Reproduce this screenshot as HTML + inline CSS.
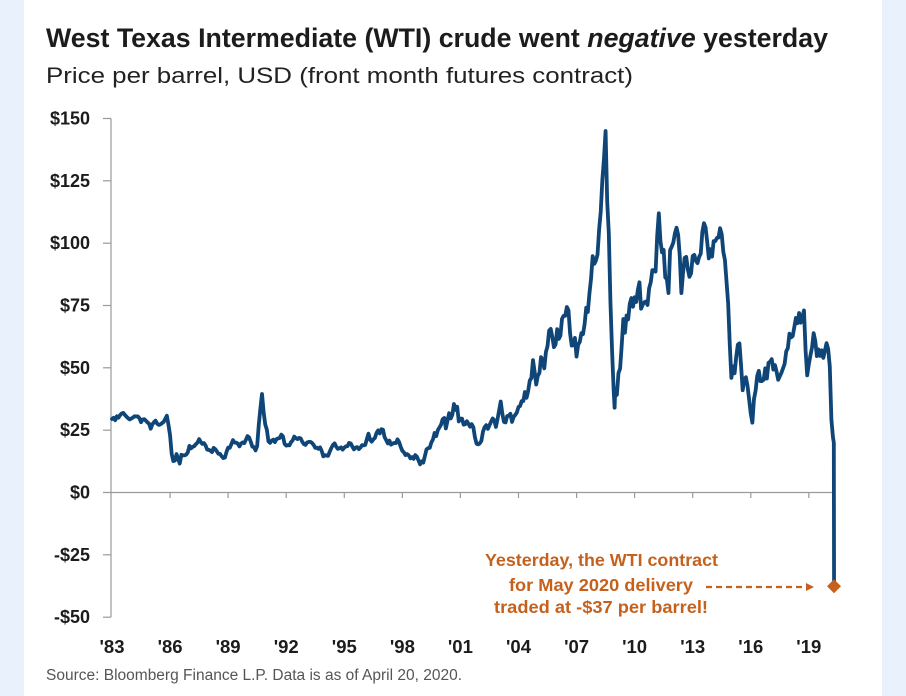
<!DOCTYPE html>
<html>
<head>
<meta charset="utf-8">
<style>
  html,body{margin:0;padding:0;background:#fff;}
  svg{display:block;}
</style>
</head>
<body>
<svg width="906" height="696" viewBox="0 0 906 696" xmlns="http://www.w3.org/2000/svg">
  <rect x="0" y="0" width="906" height="696" fill="#ffffff"/>
  <rect x="0" y="0" width="24" height="696" fill="#e8f1fc"/>
  <rect x="882" y="0" width="24" height="696" fill="#e8f1fc"/>

  <!-- Title -->
  <text x="46" y="47" font-family="Liberation Sans, sans-serif" font-size="26.5" font-weight="bold" fill="#1c1c1c" textLength="782" lengthAdjust="spacingAndGlyphs">West Texas Intermediate (WTI) crude went <tspan font-style="italic">negative</tspan> yesterday</text>
  <text x="46" y="83" font-family="Liberation Sans, sans-serif" font-size="22" fill="#222" textLength="587" lengthAdjust="spacingAndGlyphs">Price per barrel, USD (front month futures contract)</text>

  <!-- Axes -->
  <g stroke="#9a9a9a" stroke-width="1.2" fill="none">
    <line x1="111" y1="118.5" x2="111" y2="617.2"/>
    <line x1="103" y1="118.5" x2="111" y2="118.5"/>
    <line x1="103" y1="180.8" x2="111" y2="180.8"/>
    <line x1="103" y1="243.2" x2="111" y2="243.2"/>
    <line x1="103" y1="305.5" x2="111" y2="305.5"/>
    <line x1="103" y1="367.8" x2="111" y2="367.8"/>
    <line x1="103" y1="430.2" x2="111" y2="430.2"/>
    <line x1="103" y1="492.5" x2="834" y2="492.5"/>
    <line x1="103" y1="554.8" x2="111" y2="554.8"/>
    <line x1="103" y1="617.2" x2="111" y2="617.2"/>
    <line x1="170.1" y1="492.5" x2="170.1" y2="498"/>
    <line x1="228.1" y1="492.5" x2="228.1" y2="498"/>
    <line x1="286.2" y1="492.5" x2="286.2" y2="498"/>
    <line x1="344.3" y1="492.5" x2="344.3" y2="498"/>
    <line x1="402.4" y1="492.5" x2="402.4" y2="498"/>
    <line x1="460.4" y1="492.5" x2="460.4" y2="498"/>
    <line x1="518.5" y1="492.5" x2="518.5" y2="498"/>
    <line x1="576.6" y1="492.5" x2="576.6" y2="498"/>
    <line x1="634.6" y1="492.5" x2="634.6" y2="498"/>
    <line x1="692.7" y1="492.5" x2="692.7" y2="498"/>
    <line x1="750.8" y1="492.5" x2="750.8" y2="498"/>
    <line x1="808.8" y1="492.5" x2="808.8" y2="498"/>
  </g>

  <!-- Y labels -->
  <g font-family="Liberation Sans, sans-serif" font-size="18" font-weight="bold" fill="#1c1c1c" text-anchor="end">
    <text x="90" y="124.5">$150</text>
    <text x="90" y="186.8">$125</text>
    <text x="90" y="249.2">$100</text>
    <text x="90" y="311.5">$75</text>
    <text x="90" y="373.8">$50</text>
    <text x="90" y="436.2">$25</text>
    <text x="90" y="498.5">$0</text>
    <text x="90" y="560.8">-$25</text>
    <text x="90" y="623.2">-$50</text>
  </g>

  <!-- X labels -->
  <g font-family="Liberation Sans, sans-serif" font-size="18.5" font-weight="bold" fill="#1c1c1c" text-anchor="middle">
    <text x="112" y="653">'83</text>
    <text x="170.1" y="653">'86</text>
    <text x="228.1" y="653">'89</text>
    <text x="286.2" y="653">'92</text>
    <text x="344.3" y="653">'95</text>
    <text x="402.4" y="653">'98</text>
    <text x="460.4" y="653">'01</text>
    <text x="518.5" y="653">'04</text>
    <text x="576.6" y="653">'07</text>
    <text x="634.6" y="653">'10</text>
    <text x="692.7" y="653">'13</text>
    <text x="750.8" y="653">'16</text>
    <text x="808.8" y="653">'19</text>
  </g>

  <!-- Source -->
  <text x="46" y="680" font-family="Liberation Sans, sans-serif" font-size="15.5" fill="#555" textLength="416" lengthAdjust="spacingAndGlyphs">Source: Bloomberg Finance L.P. Data is as of April 20, 2020.</text>

  <!-- Data line -->
  <g transform="translate(112,492.5) scale(1.613,-2.4933)">
    <polyline fill="none" stroke="#0f4677" stroke-width="3.8" stroke-linejoin="round" stroke-linecap="round" vector-effect="non-scaling-stroke" points="0,29.5 1,30 2,29 3,30.6 4,30 5,31 6,31.7 7,31.9 8,31.1 9,30.4 10,29.8 11,29.3 12,29.7 13,30.1 14,30.6 15,30.5 16,30.5 17,29.8 18,28.2 19,29.3 20,29.4 21,28.8 22,28.1 23,27.6 24,25.6 25,27.3 26,28.2 27,28.8 28,27.6 29,27.1 30,27.3 31,27.8 32,28.3 33,29.5 34,30.8 35,27.2 36,22.9 37,15.5 38,12.6 39,12.8 40,15.4 41,13.5 42,11.6 43,15.1 44,14.9 45,14.9 46,15.2 47,16.1 48,18.7 49,17.7 50,18.3 51,18.6 52,19.4 53,20 54,21.4 55,20.3 56,19.5 57,19.8 58,18.9 59,17.2 60,17.1 61,16.8 62,16.2 63,17.9 64,17.4 65,16.5 66,15.5 67,15.5 68,14.5 69,13.8 70,14 71,16.3 72,18 73,17.9 74,19.4 75,21 76,20 77,20 78,19.6 79,18.5 80,19.6 81,20.1 82,19.8 83,21.1 84,22.6 85,22.1 86,20.4 87,18.4 88,18.2 89,16.9 90,18.6 91,27.2 92,33.7 93,39.5 94,32.3 95,27.3 96,25.2 97,20.5 98,19.9 99,20.8 100,21.2 101,20.2 102,21.4 103,21.7 104,21.9 105,23.2 106,22.5 107,19.5 108,18.8 109,19 110,18.9 111,20.2 112,20.9 113,22.4 114,21.8 115,21.4 116,21.9 117,21.7 118,20.3 119,19.4 120,19.1 121,20.1 122,20.3 123,20.3 124,19.9 125,19.1 126,17.9 127,18 128,17.5 129,18.1 130,16.7 131,14.5 132,15 133,14.8 134,14.7 135,16.4 136,17.9 137,19.1 138,19.7 139,18.4 140,17.5 141,17.7 142,18.1 143,17.2 144,18 145,18.5 146,18.6 147,19.9 148,19.7 149,18.4 150,17.3 151,18 152,18.2 153,17.4 154,18 155,19 156,18.9 157,19.1 158,21.4 159,23.6 160,21.2 161,20.4 162,21.3 163,21.9 164,23.9 165,24.9 166,23.7 167,25.4 168,25.2 169,22.2 170,21 171,19.7 172,20.8 173,19.2 174,19.6 175,19.9 176,19.8 177,21.3 178,20.2 179,18.3 180,16.7 181,16.1 182,15 183,15.4 184,14.9 185,13.7 186,14.2 187,13.5 188,15 189,14.4 190,12.9 191,11.3 192,12.5 193,12 194,14.7 195,17.3 196,17.8 197,17.9 198,20.1 199,21.3 200,23.9 201,22.6 202,25 203,26.1 204,27.2 205,29.4 206,29.9 207,25.7 208,28.8 209,31.8 210,29.7 211,31.2 212,35.5 213,33.1 214,34.4 215,28.5 216,29.6 217,29.6 218,27.2 219,27.4 220,28.6 221,27.6 222,26.4 223,27.4 224,26.2 225,22.2 226,19.6 227,19.3 228,19.7 229,20.7 230,24.4 231,26.2 232,27 233,25.5 234,26.9 235,28.4 236,29.7 237,28.9 238,26.3 239,29.4 240,32.9 241,36.5 242,31.6 243,28.3 244,28.1 245,30.7 246,30.8 247,31.6 248,28.3 249,30.3 250,31.1 251,32.1 252,34.3 253,34.7 254,36.7 255,36.7 256,40.3 257,38 258,40.7 259,44.9 260,45.9 261,53.1 262,48.5 263,43.3 264,46.8 265,48 266,54.3 267,53 268,49.8 269,56.3 270,58.7 271,64.9 272,65.6 273,62.3 274,58.3 275,59.4 276,65.5 277,61.6 278,62.9 279,69.7 280,70.9 281,70.9 282,74.4 283,73.1 284,63.8 285,58.9 286,59.1 287,62 288,54.5 289,59.3 290,60.4 291,63.9 292,63.5 293,67.5 294,74.1 295,72.4 296,79.9 297,85.8 298,94.8 299,91.7 300,93 301,95.4 302,105.5 303,112.6 304,125.4 305,133.9 306,145 306.6,128 307,116.7 308,104.1 309,76.6 310,57.3 311,41.1 311.6,34 312,41.7 313,39.1 314,47.9 315,49.7 316,59 317,69.6 318,64.1 319,71 320,69.4 321,75.7 322,78 323,74.5 324,78.3 325,76.4 326,81.2 327,84.3 328,73.7 329,75.3 330,76.3 331,76.6 332,75.2 333,81.9 334,84.3 335,89.2 336,89.2 337,88.6 338,102.9 339,112 340,100.9 341,96.3 342,97.3 343,86.3 344,85.5 345,80 346,97.2 347,98.6 348,100.3 349,104 350,106.2 351,103.3 352,94.7 353,80 354,87.9 355,94.1 356,94.5 357,89.5 358,86.5 359,87.9 360,94.8 361,95.3 362,92.9 363,92 364,94.5 365,95.8 366,104.6 367,108 368,106.3 369,100.5 370,93.9 371,97.6 372,94.6 373,100.8 374,100.8 375,102.1 376,102.2 377,106 378,103.6 379,96.5 380,93.2 381,84.4 382,75.8 383,59.3 384,46 385,50.6 386,47.8 387,54.5 388,59.3 389,59.8 390,50.9 391,41 392,45.5 393,46.2 394,42.7 395,37.3 396,31.7 397,28 398,37.5 399,40.8 400,46.7 401,48.8 402,44.7 403,44.7 404,45.2 405,49.8 406,45.7 407,52 408,52.5 409,53.5 410,49.3 411,51.1 412,48.5 413,45.2 414,46.6 415,48 416,49.8 417,51.6 418,56.6 419,57.9 420,63.7 421,62.2 422,62.7 423,66.3 424,70 425,67.9 426,72 427,68.1 428,70.2 429,73 430,57 431,47 432,51.4 433,55 434,58.2 435,63.9 436,60.8 437,54.7 438,57.4 439,54.8 440,57 441,54 442,57 443,59.9 444,57.5 445,50.5 446,29.2 447,22 447.5,20 447.65,-37.6"/>
  </g>

  <!-- Annotation -->
  <g font-family="Liberation Sans, sans-serif" font-size="17.5" font-weight="bold" fill="#c5611c">
    <text x="485" y="566" textLength="233" lengthAdjust="spacingAndGlyphs">Yesterday, the WTI contract</text>
    <text x="509" y="591" textLength="184" lengthAdjust="spacingAndGlyphs">for May 2020 delivery</text>
    <text x="494" y="613" textLength="214" lengthAdjust="spacingAndGlyphs">traded at -$37 per barrel!</text>
  </g>
  <line x1="706" y1="587" x2="806" y2="587" stroke="#c5611c" stroke-width="2.2" stroke-dasharray="6 4"/>
  <polygon points="806,583 814,587 806,591" fill="#c5611c"/>
  <polygon points="834,579.3 841,586.3 834,593.3 827,586.3" fill="#c5611c"/>
</svg>
</body>
</html>
